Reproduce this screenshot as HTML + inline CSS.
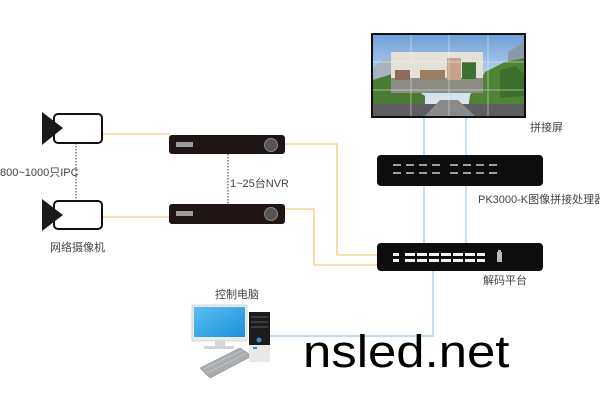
<!DOCTYPE html>
<html><head><meta charset="utf-8"><style>
html,body{margin:0;padding:0;background:#fff;}
body{width:600px;height:400px;overflow:hidden;position:relative;}
svg{position:absolute;left:0;top:0;}
.t{font-family:"Liberation Sans","Noto Sans CJK SC",sans-serif;font-size:11px;fill:#444;}
.big{position:absolute;left:303px;top:324px;font-family:"Liberation Sans",sans-serif;font-size:45px;color:#000;line-height:56px;transform-origin:0 0;transform:scaleX(1.13);white-space:nowrap;}
</style></head><body>
<svg width="600" height="400" viewBox="0 0 600 400">
<defs>
<linearGradient id="sky" x1="0" y1="0" x2="0" y2="1"><stop offset="0" stop-color="#6f9fd8"/><stop offset="0.6" stop-color="#c8dcef"/><stop offset="1" stop-color="#e6eef2"/></linearGradient>
<linearGradient id="mon" x1="0" y1="0" x2="1" y2="1"><stop offset="0" stop-color="#5cc0f0"/><stop offset="1" stop-color="#1a8fd8"/></linearGradient>
</defs>
<!-- orange lines -->
<g stroke="#f6d49a" stroke-width="1.6" fill="none">
<polyline points="102,134 170,134"/>
<polyline points="102,217 170,217"/>
<polyline points="285,144 337,144 337,255 377,255"/>
<polyline points="285,209 314,209 314,265 377,265"/>
</g>
<!-- blue lines -->
<g stroke="#a9d2ea" stroke-width="1.4" fill="none">
<line x1="424" y1="118" x2="424" y2="243"/>
<line x1="466" y1="118" x2="466" y2="243"/>
<polyline points="433,271 433,336 268,336"/>
</g>
<!-- dotted lines -->
<line x1="76" y1="143" x2="76" y2="201" stroke="#333" stroke-width="1" stroke-dasharray="1.5,1.5"/>
<line x1="228" y1="154" x2="228" y2="204" stroke="#333" stroke-width="1" stroke-dasharray="1.5,1.5"/>
<!-- cameras -->
<g>
<rect x="54" y="114" width="48" height="29" rx="4" fill="#fff" stroke="#111" stroke-width="2"/>
<polygon points="42,112 63,128 42,145" fill="#1a1a1a"/>
<rect x="54" y="201" width="48" height="28" rx="4" fill="#fff" stroke="#111" stroke-width="2"/>
<polygon points="42,199 63,215 42,231" fill="#1a1a1a"/>
</g>
<!-- NVRs -->
<g>
<rect x="169" y="135" width="116" height="19" rx="3" fill="#1f1515"/>
<rect x="176" y="142" width="17" height="5" fill="#9a9a9a"/>
<circle cx="271" cy="145" r="6.5" fill="#555" stroke="#888" stroke-width="1"/>
<rect x="169" y="204" width="116" height="20" rx="3" fill="#1f1515"/>
<rect x="176" y="211" width="17" height="5" fill="#9a9a9a"/>
<circle cx="271" cy="214" r="6.5" fill="#555" stroke="#888" stroke-width="1"/>
</g>
<!-- video wall -->
<g>
<rect x="371" y="33" width="155" height="85" fill="#111"/>
<rect x="373" y="35" width="151" height="81" fill="url(#sky)"/>
<polygon points="373,68 385,58 398,62 395,80 373,85" fill="#a8b2c0"/>
<polygon points="373,80 392,74 410,85 425,96 425,110 373,110" fill="#4a7a34"/>
<polygon points="524,42 508,52 508,90 524,90" fill="#8b98a8"/>
<polygon points="524,58 505,62 485,72 470,95 468,110 524,110" fill="#4f8436"/>
<polygon points="500,70 515,66 524,74 524,96 500,98" fill="#3d6e2c"/>
<rect x="373" y="104" width="151" height="12" fill="#5e5e62"/>
<polygon points="425,116 440,100 458,100 475,116" fill="#8a8a8a"/>
<rect x="391" y="52" width="92" height="41" fill="#e4e2d8"/>
<rect x="391" y="78" width="92" height="15" fill="#8c8c84"/>
<rect x="395" y="70" width="15" height="10" fill="#8a6e5a"/>
<rect x="420" y="70" width="25" height="10" fill="#9a7e62"/>
<rect x="447" y="58" width="14" height="22" fill="#c9a28a"/>
<rect x="462" y="62" width="14" height="17" fill="#3f7230"/>
<g stroke="#e8eef4" stroke-width="0.7" opacity="0.7">
<line x1="411" y1="35" x2="411" y2="116"/><line x1="449" y1="35" x2="449" y2="116"/><line x1="488" y1="35" x2="488" y2="116"/>
<line x1="373" y1="62" x2="524" y2="62"/><line x1="373" y1="90" x2="524" y2="90"/>
</g>
</g>
<!-- processor -->
<g>
<rect x="377" y="155" width="166" height="31" rx="4" fill="#0d0d0d"/>
<g fill="#9a9a9a">
<rect x="393" y="164" width="8" height="2"/><rect x="393" y="172" width="8" height="2"/>
<rect x="406" y="164" width="8" height="2"/><rect x="406" y="172" width="8" height="2"/>
<rect x="419" y="164" width="8" height="2"/><rect x="419" y="172" width="8" height="2"/>
<rect x="432" y="164" width="8" height="2"/><rect x="432" y="172" width="8" height="2"/>
<rect x="450" y="164" width="8" height="2"/><rect x="450" y="172" width="8" height="2"/>
<rect x="463" y="164" width="8" height="2"/><rect x="463" y="172" width="8" height="2"/>
<rect x="476" y="164" width="8" height="2"/><rect x="476" y="172" width="8" height="2"/>
<rect x="489" y="164" width="8" height="2"/><rect x="489" y="172" width="8" height="2"/>
</g>
</g>
<!-- decoder -->
<g>
<rect x="377" y="243" width="166" height="28" rx="4" fill="#0d0d0d"/>
<g fill="#f2f2f2">
<rect x="393" y="253" width="6" height="3"/><rect x="393" y="259" width="6" height="3"/>
<rect x="405" y="253" width="10" height="3"/><rect x="405" y="259" width="10" height="3"/>
<rect x="417" y="253" width="10" height="3"/><rect x="417" y="259" width="10" height="3"/>
<rect x="429" y="253" width="10" height="3"/><rect x="429" y="259" width="10" height="3"/>
<rect x="441" y="253" width="10" height="3"/><rect x="441" y="259" width="10" height="3"/>
<rect x="453" y="253" width="10" height="3"/><rect x="453" y="259" width="10" height="3"/>
<rect x="465" y="253" width="10" height="3"/><rect x="465" y="259" width="10" height="3"/>
<rect x="477" y="253" width="8" height="3"/><rect x="477" y="259" width="8" height="3"/>
<rect x="497" y="252" width="5" height="10" fill="#bbb"/>
<rect x="498" y="250" width="3" height="2" fill="#bbb"/>
</g>
</g>
<!-- PC -->
<g>
<rect x="192" y="305" width="55" height="36" rx="1" fill="#e8ecef" stroke="#c8cdd2" stroke-width="0.8"/>
<rect x="194" y="307" width="51" height="30" fill="url(#mon)"/>
<rect x="215" y="341" width="10" height="6" fill="#d6d9dc"/>
<rect x="204" y="346" width="30" height="3" fill="#d0d3d6"/>
<polygon points="200,368 240,348 252,356 210,378" fill="#a9adb0" stroke="#8a8e92" stroke-width="0.6"/>
<g stroke="#d4d6d8" stroke-width="0.6"><line x1="204" y1="369" x2="243" y2="350"/><line x1="207" y1="373" x2="247" y2="353"/></g>
<rect x="249" y="312" width="21" height="50" fill="#1c1c1c"/>
<rect x="249" y="345" width="21" height="17" fill="#e8e8e8"/>
<rect x="251" y="316" width="17" height="2" fill="#3a3a3a"/>
<rect x="251" y="321" width="17" height="2" fill="#3a3a3a"/>
<rect x="251" y="326" width="17" height="2" fill="#3a3a3a"/>
<circle cx="259" cy="340" r="2.5" fill="#3a8ed0"/>
<rect x="253" y="347" width="4" height="2" fill="#3a8ed0"/>
</g>
<!-- labels -->
<text class="t" x="0" y="176">800~1000只IPC</text>
<text class="t" x="50" y="251">网络摄像机</text>
<text class="t" x="230" y="187">1~25台NVR</text>
<text class="t" x="530" y="131">拼接屏</text>
<text class="t" x="478" y="203">PK3000-K图像拼接处理器</text>
<text class="t" x="483" y="284">解码平台</text>
<text class="t" x="215" y="298">控制电脑</text>
</svg>
<div class="big">nsled.net</div>
</body></html>
